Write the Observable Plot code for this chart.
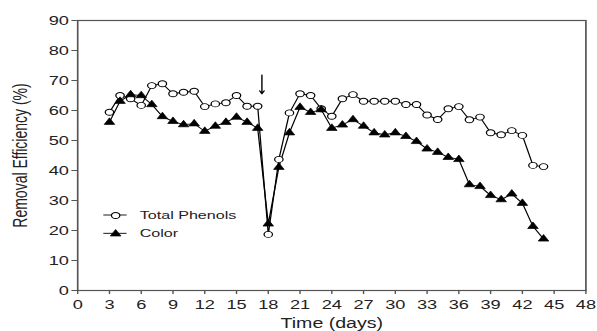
<!DOCTYPE html>
<html>
<head>
<meta charset="utf-8">
<script src="https://cdn.jsdelivr.net/npm/d3@7"></script>
<script src="https://cdn.jsdelivr.net/npm/@observablehq/plot@0.6"></script>
<style>
  html, body { margin: 0; padding: 0; background: #fff; }
  #chart svg { display: block; }
</style>
</head>
<body>
<div id="chart"></div>
<script>
// ---- Data ----
const days = [3,4,5,6,7,8,9,10,11,12,13,14,15,16,17,18,19,20,21,22,23,24,25,26,27,28,29,30,31,32,33,34,35,36,37,38,39,40,41,42,43,44];
const totalPhenols = [59.4,65,63.9,61.7,68.3,68.9,65.6,66.1,66.4,61.3,62.2,62.6,65,61.4,61.4,18.7,43.7,59.2,65.6,65,60.6,58.1,63.9,65.3,63.1,63.1,63.1,63.1,62,62,58.5,57,60.6,61.3,56.9,57.8,52.6,51.9,53.3,51.7,41.7,41.3];
const color = [56.1,63.1,65.3,65,62,58,56.4,55.3,55.6,53.1,54.8,56.1,57.8,56.1,54.1,22.2,41.1,52.6,61.1,59.4,60.3,54.1,55.2,57,54.8,52.6,51.9,52.6,51.4,49.7,47.2,46.1,44.4,43.7,35.3,34.7,31.7,30.3,32.2,29.1,21.4,17.2];
const xTicks = [0,3,6,9,12,15,18,21,24,27,30,33,36,39,42,45,48];
const yTicks = [0,10,20,30,40,50,60,70,80,90];
const seriesNames = ["Total Phenols", "Color"];
const xLabel = "Time (days)";
const yLabel = "Removal Efficiency (%)";
// event marker (arrow) at day ~17.4
const events = [{day: 17.4, from: 71.8, to: 65.6}];

const rows = days.map((d, i) => ({day: d, phenols: totalPhenols[i], color: color[i]}));

// ---- Layout ----
const STRETCH = 1.4;           // reference image is horizontally stretched
const W = 597, H = 331;
const W0 = W / STRETCH;
const ink = "#000";
const axisInk = "#555";
const textInk = "#222";
const font = "'Liberation Sans', Arial, Helvetica, sans-serif";

// legend row offsets (px from the frame's top-left corner)
const legendRows = [{dy: 195}, {dy: 213.3}];
const swatchX = 27.1, swatchHalf = 8.3, labelX = 44.3;

// render-function mark drawing the legend's line swatches
function legendSwatches(index, scales, values, dimensions) {
  const g = d3.create("svg:g").attr("stroke", ink).attr("stroke-width", 0.9);
  for (const row of legendRows) {
    const cx = dimensions.marginLeft + swatchX;
    const cy = dimensions.marginTop + row.dy;
    g.append("line")
      .attr("x1", cx - swatchHalf).attr("x2", cx + swatchHalf)
      .attr("y1", cy).attr("y2", cy);
  }
  return g.node();
}

const svg = Plot.plot({
  width: W0,
  height: H,
  marginLeft: 55,
  marginRight: W0 - 418,
  marginTop: 20,
  marginBottom: 41,
  style: {fontFamily: font, fontSize: "13px", color: textInk, background: "#fff"},
  x: {domain: [0, 48]},
  y: {domain: [0, 90]},
  marks: [
    Plot.frame({stroke: axisInk, strokeWidth: 1.2}),
    Plot.axisX({ticks: xTicks, tickSize: 4, tickPadding: 5, stroke: axisInk, label: null, fill: textInk}),
    Plot.axisY({ticks: yTicks, tickSize: 4, tickPadding: 2.3, stroke: axisInk, label: null, fill: textInk}),
    Plot.text([xLabel], {frameAnchor: "bottom", dy: 33, lineAnchor: "middle", textAnchor: "middle", fontSize: 14, fill: textInk}),
    Plot.text([yLabel], {frameAnchor: "left", dx: -40.7, rotate: -90, lineAnchor: "middle", textAnchor: "middle", fontSize: 14, fill: textInk}),
    Plot.line(rows, {x: "day", y: "phenols", stroke: ink, strokeWidth: 0.9}),
    Plot.line(rows, {x: "day", y: "color", stroke: ink, strokeWidth: 0.9}),
    Plot.dot(rows, {x: "day", y: "phenols", r: 3, fill: "#fff", stroke: ink, strokeWidth: 0.9}),
    Plot.dot(rows, {x: "day", y: "color", r: 2.8, symbol: "triangle", fill: ink, stroke: ink, strokeWidth: 0.6}),
    Plot.arrow(events, {x1: "day", y1: "from", x2: "day", y2: "to", stroke: ink, strokeWidth: 1, headLength: 5}),
    // legend
    legendSwatches,
    Plot.dot([0], {frameAnchor: "top-left", dx: swatchX, dy: legendRows[0].dy, r: 3, fill: "#fff", stroke: ink, strokeWidth: 0.9}),
    Plot.text([seriesNames[0]], {frameAnchor: "top-left", dx: labelX, dy: legendRows[0].dy, textAnchor: "start", lineAnchor: "middle", fontSize: 11.5, fill: textInk}),
    Plot.dot([0], {frameAnchor: "top-left", dx: swatchX, dy: legendRows[1].dy, r: 2.8, symbol: "triangle", fill: ink, stroke: ink, strokeWidth: 0.6}),
    Plot.text([seriesNames[1]], {frameAnchor: "top-left", dx: labelX, dy: legendRows[1].dy, textAnchor: "start", lineAnchor: "middle", fontSize: 11.5, fill: textInk})
  ]
});

svg.setAttribute("viewBox", `0 0 ${W0} ${H}`);
svg.setAttribute("preserveAspectRatio", "none");
svg.setAttribute("width", W);
svg.setAttribute("height", H);
svg.style.width = W + "px";
svg.style.height = H + "px";
svg.style.maxWidth = "none";
document.getElementById("chart").appendChild(svg);
</script>
</body>
</html>
